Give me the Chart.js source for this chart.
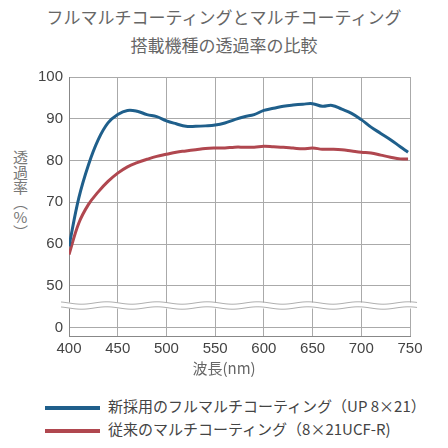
<!DOCTYPE html><html><head><meta charset="utf-8">
<script src="https://cdn.jsdelivr.net/npm/chart.js@4/dist/chart.umd.min.js"></script>
<style>
body{margin:0;width:448px;height:448px;background:#fff;font-family:"Noto Sans CJK JP",sans-serif;color:#555;position:relative;overflow:hidden}
.t{position:absolute;left:0;width:448px;text-align:center;font-size:17px;color:#666}
#yt{position:absolute;left:10px;top:150px;writing-mode:vertical-rl;text-orientation:upright;font-size:15px;color:#777;letter-spacing:0px}
#xt{position:absolute;left:0;width:448px;top:357px;text-align:center;font-size:15px;color:#666}
#wrap{position:absolute;left:32px;top:62px;width:416px;height:300px}
.lg{position:absolute;left:45px;font-size:15px;color:#444}
.lg span{display:inline-block;width:55px;height:4px;vertical-align:middle;margin-right:8px}
</style></head><body>
<div class="t" style="top:4px">フルマルチコーティングとマルチコーティング</div>
<div class="t" style="top:32px">搭載機種の透過率の比較</div>
<div id="yt">透過率（%）</div>
<div id="wrap"><canvas id="c"></canvas></div>
<div id="xt">波長(nm)</div>
<div class="lg" style="top:395px"><span style="background:#1f5f8b"></span>新採用のフルマルチコーティング（UP 8×21）</div>
<div class="lg" style="top:418px"><span style="background:#b0474f"></span>従来のマルチコーティング（8×21UCF-R)</div>
<script>
const wavelengths=[400,410,420,430,440,450,460,470,480,490,500,510,520,530,540,550,560,570,580,590,600,610,620,630,640,650,660,670,680,690,700,710,720,730,740,748];
const fullMulti=[59.5,71,79,85,89,91,92,91.8,91,90.5,89.5,88.8,88.2,88.2,88.3,88.5,89,89.8,90.5,91,92,92.5,93,93.3,93.5,93.6,93,93.2,92.3,91.3,89.8,88,86.5,85,83.3,82];
const multi=[57.5,65,69.5,72.5,75,77,78.5,79.5,80.3,81,81.5,82,82.3,82.6,82.9,83,83,83.2,83.2,83.2,83.4,83.3,83.2,83,82.8,83,82.7,82.7,82.6,82.3,82,81.8,81.3,80.8,80.4,80.4];
const yTicks=[40,50,60,70,80,90,100];
const yLabels=["0","50","60","70","80","90","100"];
const xTicks=[400,450,500,550,600,650,700,750];
const breakPlugin={id:'brk',afterDatasetsDraw(ch){const {ctx,chartArea:a,scales:{y}}=ch;const yy=y.getPixelForValue(45.3);
ctx.save();ctx.fillStyle='#fff';ctx.fillRect(a.left-8,yy-3,a.right-a.left+14,6);ctx.strokeStyle='#999';ctx.lineWidth=0.8;
for(const o of[-2.5,2.5]){ctx.beginPath();for(let x=a.left-8;x<=a.right+8;x++){const v=yy+o+1.2*Math.sin((x-a.left)/8);x===a.left-8?ctx.moveTo(x,v):ctx.lineTo(x,v);}ctx.stroke();}ctx.restore();}};
new Chart(document.getElementById('c'),{type:'line',
data:{datasets:[
{data:wavelengths.map((x,i)=>({x,y:fullMulti[i]})),borderColor:'#1f5f8b',borderWidth:3,pointRadius:0,tension:0.4},
{data:wavelengths.map((x,i)=>({x,y:multi[i]})),borderColor:'#b0474f',borderWidth:3,pointRadius:0,tension:0.4}]},
options:{responsive:true,maintainAspectRatio:false,animation:false,layout:{padding:{right:38,top:4}},
plugins:{legend:{display:false},tooltip:{enabled:false}},
scales:{x:{type:'linear',min:400,max:750,afterBuildTicks:s=>{s.ticks=xTicks.map(v=>({value:v}))},
grid:{color:'#aaa',drawTicks:false},border:{color:'#888'},ticks:{color:'#444',font:{size:15,family:'Liberation Sans'},padding:4}},
y:{min:38,max:100,afterBuildTicks:s=>{s.ticks=yTicks.map(v=>({value:v}))},
ticks:{color:'#444',font:{size:15,family:'Liberation Sans'},callback:v=>yLabels[yTicks.indexOf(v)],padding:6},
grid:{color:'#aaa',drawTicks:false},border:{color:'#888'}}}},
plugins:[breakPlugin]});
</script></body></html>
